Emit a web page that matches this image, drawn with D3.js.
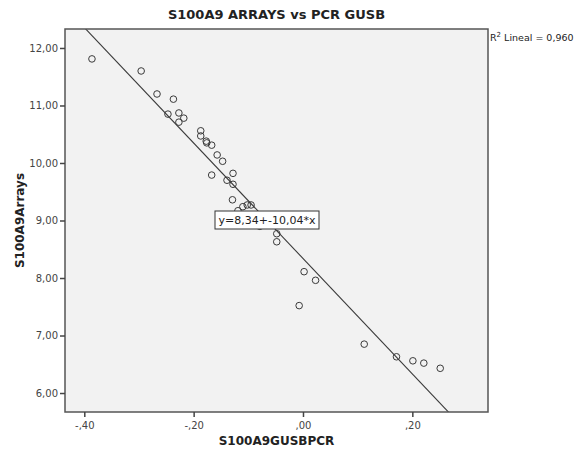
<!DOCTYPE html>
<html>
<head>
<meta charset="utf-8">
<script src="https://cdn.jsdelivr.net/npm/d3@7"></script>
<style>
  body { margin: 0; background: #fff; }
  text { font-family: "DejaVu Sans", sans-serif; }
</style>
</head>
<body>
<div id="chart"></div>
<script>
// values
var pcr = [-0.386, -0.296, -0.267, -0.237, -0.247, -0.227, -0.218, -0.227,
  -0.187, -0.187, -0.177, -0.176, -0.167, -0.157, -0.147, -0.167, -0.128,
  -0.139, -0.128, -0.129, -0.119, -0.110, -0.102, -0.095, -0.079, -0.048,
  -0.048, 0.002, 0.023, -0.007, 0.112, 0.171, 0.201, 0.221, 0.251]
var arrays = [11.81, 11.60, 11.20, 11.11, 10.85, 10.87, 10.78, 10.71,
  10.56, 10.47, 10.38, 10.35, 10.31, 10.14, 10.03, 9.79, 9.82,
  9.70, 9.63, 9.36, 9.17, 9.24, 9.27, 9.27, 8.90, 8.77,
  8.63, 8.11, 7.96, 7.52, 6.85, 6.63, 6.56, 6.52, 6.43]
var xTicks = [-0.4, -0.2, 0, 0.2]
var yTicks = [6, 7, 8, 9, 10, 11, 12]
var fitA = 8.34, fitB = -10.04
var r2 = "0,960"

var W = 578, H = 455
var margin = {left: 65, right: 90, top: 29, bottom: 43}
var w = W - margin.left - margin.right,
    h = H - margin.top - margin.bottom

// spss style numbers: comma decimal, no leading zero
var comma = function(v, digits){
  var s = d3.format("." + digits + "f")(v).replace("\u2212", "-").replace(".", ",")
  return s.replace(/^(-?)0,/, "$1,")
}

var svg = d3.select("#chart").append("svg")
  .attr("width", W).attr("height", H)

var g = svg.append("g")
  .attr("transform", "translate(" + margin.left + "," + margin.top + ")")

var x = d3.scaleLinear().domain([-0.4353, 0.3384]).range([0, w])
var y = d3.scaleLinear().domain([5.67, 12.33]).range([h, 0])

g.append("rect")
  .attr("width", w).attr("height", h)
  .attr("fill", "#f2f2f2")

g.append("clipPath").attr("id", "clip")
  .append("rect").attr("width", w).attr("height", h)

// fit line
var xd = x.domain()
g.append("line")
  .attr("clip-path", "url(#clip)")
  .attr("x1", x(xd[0])).attr("y1", y(fitA + fitB * xd[0]))
  .attr("x2", x(xd[1])).attr("y2", y(fitA + fitB * xd[1]))
  .attr("stroke", "#3a3a3a").attr("stroke-width", 1.1)

g.selectAll(".dot")
  .data(pcr)
  .enter().append("circle")
  .attr("class", "dot")
  .attr("cx", function(d){ return x(d) })
  .attr("cy", function(d, i){ return y(arrays[i]) })
  .attr("r", 3.3)
  .attr("fill", "none")
  .attr("stroke", "#3a3a3a")
  .attr("stroke-width", 1)

g.append("rect")
  .attr("width", w).attr("height", h)
  .attr("fill", "none")
  .attr("stroke", "#555").attr("stroke-width", 1.5)

var xAxis = g.append("g")
  .attr("transform", "translate(0," + h + ")")
  .call(d3.axisBottom(x).tickValues(xTicks).tickSize(5).tickPadding(5)
    .tickFormat(function(d){ return comma(d, 2) }))
var yAxis = g.append("g")
  .call(d3.axisLeft(y).tickValues(yTicks).tickSize(5).tickPadding(2)
    .tickFormat(function(d){ return comma(d, 2) }))

;[xAxis, yAxis].forEach(function(a){
  a.select(".domain").remove()
  a.selectAll(".tick line").attr("stroke", "#444").attr("stroke-width", 1.5)
  a.selectAll(".tick text").attr("fill", "#444")
    .style("font-family", "DejaVu Sans, sans-serif").style("font-size", "10px")
})

// equation label
var lab = g.append("g").attr("transform", "translate(150,182)")
lab.append("rect")
  .attr("width", 104).attr("height", 18)
  .attr("fill", "#fff").attr("stroke", "#333").attr("stroke-width", 1)
lab.append("text")
  .attr("x", 52).attr("y", 13)
  .attr("text-anchor", "middle")
  .style("font-size", "11px").attr("fill", "#222")
  .text("y=" + comma(fitA, 2) + "+" + comma(fitB, 2) + "*x")

svg.append("text")
  .attr("x", margin.left + w / 2).attr("y", 19)
  .attr("text-anchor", "middle")
  .style("font-size", "13px").style("font-weight", "bold").attr("fill", "#222")
  .text("S100A9 ARRAYS vs PCR GUSB")

var rt = svg.append("text")
  .attr("x", margin.left + w + 2).attr("y", 41)
  .style("font-size", "9.5px").attr("fill", "#222")
rt.append("tspan").text("R")
rt.append("tspan").attr("dy", -4).style("font-size", "7px").text("2")
rt.append("tspan").attr("dy", 4).text(" Lineal = " + r2)

svg.append("text")
  .attr("x", margin.left + w / 2).attr("y", 445)
  .attr("text-anchor", "middle")
  .style("font-size", "12px").style("font-weight", "bold").attr("fill", "#222")
  .text("S100A9GUSBPCR")

svg.append("text")
  .attr("transform", "translate(24," + (margin.top + h / 2) + ") rotate(-90)")
  .attr("text-anchor", "middle")
  .style("font-size", "12px").style("font-weight", "bold").attr("fill", "#222")
  .text("S100A9Arrays")
</script>
</body>
</html>
